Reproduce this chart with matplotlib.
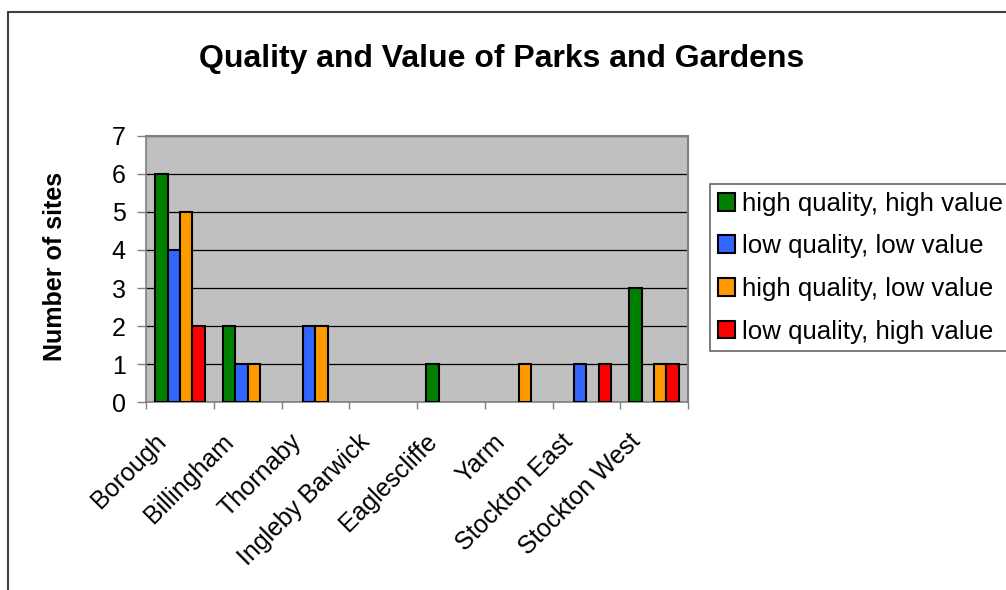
import matplotlib
matplotlib.use("Agg")
import matplotlib.pyplot as plt
import matplotlib.transforms as mtransforms
import numpy as np
from matplotlib.patches import Rectangle, Patch

plt.rcParams['font.family'] = ['Liberation Sans', 'DejaVu Sans']

categories = ["Borough", "Billingham", "Thornaby", "Ingleby Barwick",
              "Eaglescliffe", "Yarm", "Stockton East", "Stockton West"]
series_names = ["high quality, high value", "low quality, low value",
                "high quality, low value", "low quality, high value"]
hq_hv = [6, 2, 0, 0, 1, 0, 0, 3]
lq_lv = [4, 1, 2, 0, 0, 0, 1, 0]
hq_lv = [5, 1, 2, 0, 0, 1, 0, 1]
lq_hv = [2, 0, 0, 0, 0, 0, 1, 1]
series = [hq_hv, lq_lv, hq_lv, lq_hv]
colors = ["#008000", "#3366FF", "#FF9900", "#FF0000"]

fig = plt.figure(figsize=(10.06, 5.90), dpi=100)
fig.patch.set_facecolor("white")

# figure frame
fig.add_artist(Rectangle((8/1006, -0.1), 1.2, (590-12)/590 + 0.1, transform=fig.transFigure,
                         fill=False, edgecolor="#404040", linewidth=1.5))

ax = fig.add_axes([146/1006, (590-402.3)/590, (688-146)/1006, (402.3-135.7)/590])
ax.set_facecolor("#C0C0C0")

n = len(categories)
x = np.arange(n)
w = 1/5.5
for i, (vals, c) in enumerate(zip(series, colors)):
    vals = np.asarray(vals)
    pos = x - 2*w + (i + 0.5)*w
    mask = vals > 0
    ax.bar(pos[mask], vals[mask], width=w, color=c, edgecolor="black",
           linewidth=1.5, zorder=3)

ax.set_xlim(-0.5, n - 0.5)
ax.set_ylim(0, 7)
ax.set_yticks(range(0, 8))
ax.yaxis.grid(True, color="black", linewidth=0.9, zorder=1)
ax.tick_params(axis="y", labelsize=18, length=6.5, width=1, color="#808080", pad=8)

ax.set_xticks(np.arange(-0.5, n, 1.0))
ax.set_xticklabels([])
ax.tick_params(axis="x", which="major", length=5, width=1, color="#808080")

trans = mtransforms.blended_transform_factory(ax.transData, ax.transAxes)
offset = mtransforms.ScaledTranslation(-26/100, -27/100, fig.dpi_scale_trans)
for xi, lab in zip(x, categories):
    ax.text(xi, 0, lab, transform=trans + offset, rotation=45, ha="right",
            va="top", rotation_mode="anchor", fontsize=18, clip_on=False)

for s in ["top", "right"]:
    ax.spines[s].set_color("#808080")
    ax.spines[s].set_linewidth(1.5)
for s in ["left", "bottom"]:
    ax.spines[s].set_color("#808080")
    ax.spines[s].set_linewidth(1.2)

fig.text(55/1006, 1 - 266/590, "Number of sites", rotation=90, ha="center",
         va="center", fontsize=18, fontweight="bold")

fig.text(502/1006, 1 - 59/590, "Quality and Value of Parks and Gardens",
         ha="center", va="center", fontsize=23, fontweight="bold")

handles = [Patch(facecolor=c, edgecolor="black", linewidth=1.5) for c in colors]
leg = fig.legend(handles, series_names, loc="upper left",
                 bbox_to_anchor=(710/1006, 1 - 184/590), fontsize=18.6,
                 frameon=True, fancybox=False, edgecolor="#404040",
                 handlelength=0.68, handleheight=0.68, handletextpad=0.25,
                 labelspacing=0.72, borderpad=0.3, borderaxespad=0)
leg.get_frame().set_linewidth(1.2)

fig.savefig("out.png", dpi=100)
